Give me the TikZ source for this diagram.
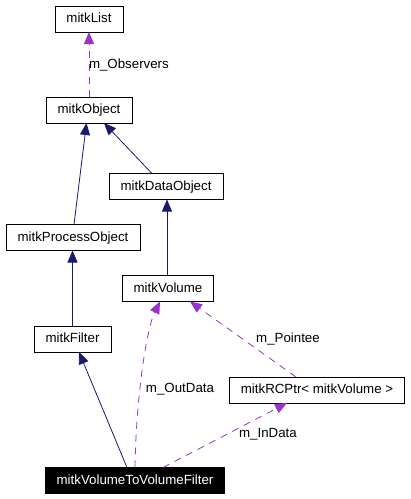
\documentclass[tikz,border=0pt]{standalone}
\usepackage{fontspec}
\setmainfont{Liberation Sans}
\usetikzlibrary{positioning,arrows.meta}
\definecolor{navy}{HTML}{191970}
\definecolor{purp}{HTML}{9A32CD}

\begin{document}
\begin{tikzpicture}
[x=1pt,y=-1pt,
 every node/.style={font=\fontsize{13.3}{16}\selectfont,inner sep=0pt,outer sep=0pt},
 cls/.style={draw=black,fill=white,line width=0.8pt,minimum height=26pt,inner xsep=11.5pt,text height=10pt,text depth=3pt},
 cur/.style={cls,fill=black,text=white},
 lbl/.style={text=black,inner sep=1pt},
 inh/.style={navy,line width=0.8pt,-{Triangle[length=12pt,width=10pt]}},
 use/.style={purp,line width=0.8pt,dash pattern=on 7pt off 6pt,-{Triangle[length=12pt,width=10pt]}}]
\useasboundingbox (0,0) rectangle (411,499);

\node[cls] (obj) at (89,110)                                    {mitkObject};
\node[cls] (lst)  [on grid,above=91pt of obj]                   {mitkList};
\node[cls] (dobj) [on grid,below right=76.5pt and 77pt of obj]  {mitkDataObject};
\node[cls] (pobj) [on grid,below  left=127.5pt and 16pt of obj] {mitkProcessObject};
\node[cls] (vol)  [on grid,below right=102pt and 2pt of dobj]   {mitkVolume};
\node[cls] (flt)  [on grid,below  left=101.5pt and 0.5pt of pobj] {mitkFilter};
\node[cls] (rcp)  [on grid,below right=101.5pt and 149pt of vol] {mitkRCPtr< mitkVolume >};
\node[cur] (v2v)  [on grid,below  left=192pt and 33pt of vol]   {mitkVolumeToVolumeFilter};

% inheritance
\draw[inh] ([xshift=1pt]pobj.north)   -- ([xshift=-2.5pt]obj.south);
\draw[inh] ([xshift=-14pt]dobj.north) -- ([xshift=15pt]obj.south);
\draw[inh] ([xshift=-1pt]vol.north)   -- ([xshift=-1pt]vol.north |- dobj.south);
\draw[inh] (flt.north)                -- (flt.north |- pobj.south);
\draw[inh] ([xshift=-8pt]v2v.north)   -- ([xshift=6.5pt]flt.south);

% members
\draw[use] (obj.north) -- node[lbl,right=-1pt] {m\_Observers} (lst.south);
\draw[use] (v2v.north) .. controls (136,400) and (146,330) .. ([xshift=-8pt]vol.south);
\draw[use] ([xshift=-21pt]rcp.north) -- ([xshift=22pt]vol.south);
\draw[use] ([xshift=28pt]v2v.north) -- ([xshift=-30pt]rcp.south);

\node[lbl] (lo) at (180,389) {m\_OutData};
\node[lbl] (lp) at (288,339) {m\_Pointee};
\node[lbl] (li) at (268,434) {m\_InData};
\end{tikzpicture}
\end{document}
